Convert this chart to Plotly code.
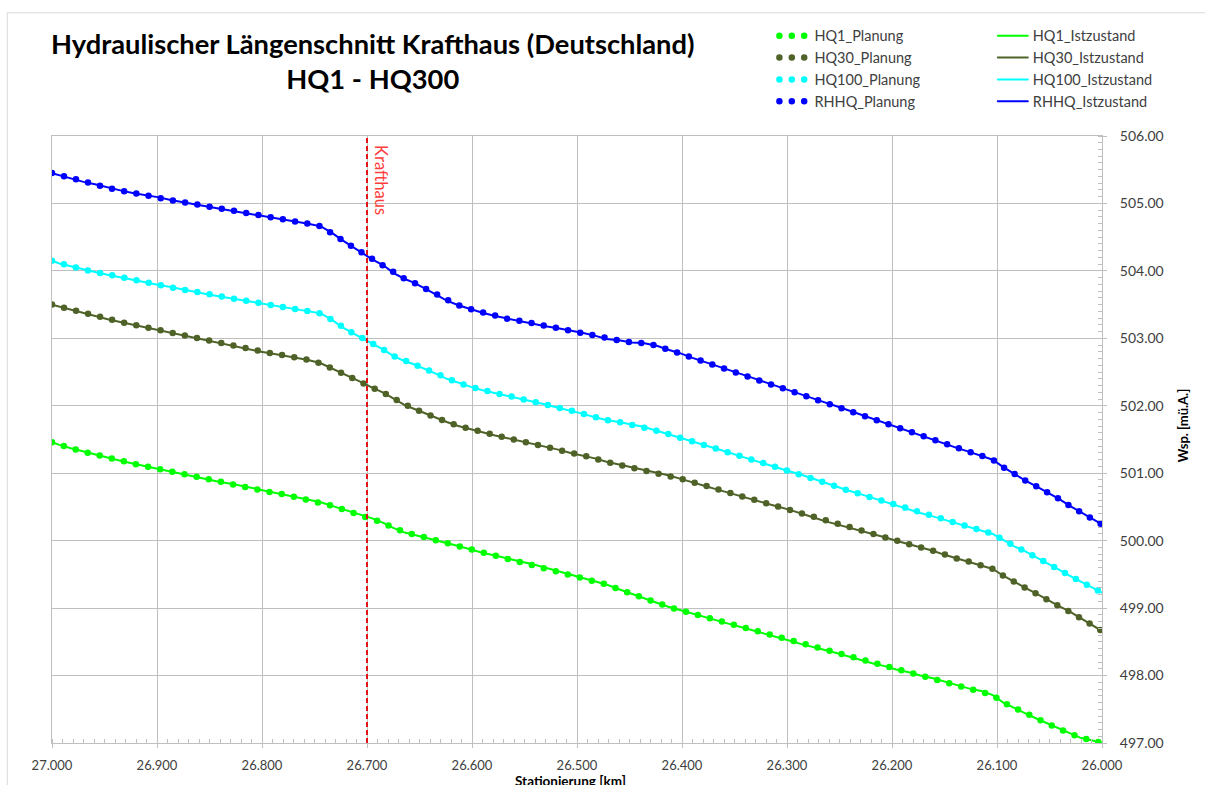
import plotly.graph_objects as go

# Stationierung [km] of the cross-sections
STATIONEN_KM = [
    27.000, 26.993, 26.982, 26.970, 26.958, 26.946, 26.934, 26.922, 26.910, 26.898,
    26.887, 26.875, 26.863, 26.851, 26.840, 26.828, 26.816, 26.804, 26.792, 26.780,
    26.768, 26.756, 26.744, 26.734, 26.724, 26.714, 26.704, 26.695, 26.684, 26.675,
    26.664, 26.656, 26.645, 26.635, 26.624, 26.613, 26.601, 26.590, 26.578, 26.566,
    26.554, 26.542, 26.530, 26.518, 26.506, 26.494, 26.483, 26.472, 26.460, 26.448,
    26.437, 26.424, 26.413, 26.402, 26.390, 26.378, 26.367, 26.356, 26.344, 26.332,
    26.321, 26.310, 26.298, 26.287, 26.276, 26.264, 26.252, 26.241, 26.230, 26.218,
    26.207, 26.196, 26.184, 26.173, 26.161, 26.150, 26.139, 26.127, 26.115, 26.104,
    26.094, 26.084, 26.073, 26.062, 26.052, 26.041, 26.031, 26.021, 26.010, 26.000,
]

# Wasserspiegel [mü.A.] – Istzustand
HQ1_IST = [
    501.46, 501.42, 501.37, 501.32, 501.27, 501.22, 501.18, 501.14, 501.10, 501.06,
    501.02, 500.99, 500.95, 500.91, 500.87, 500.84, 500.80, 500.76, 500.72, 500.69,
    500.65, 500.61, 500.57, 500.52, 500.47, 500.42, 500.37, 500.33, 500.26, 500.19,
    500.12, 500.09, 500.05, 500.01, 499.96, 499.92, 499.87, 499.82, 499.78, 499.73,
    499.69, 499.65, 499.60, 499.55, 499.50, 499.45, 499.40, 499.35, 499.28, 499.21,
    499.15, 499.08, 499.02, 498.97, 498.92, 498.87, 498.82, 498.77, 498.72, 498.67,
    498.62, 498.57, 498.52, 498.47, 498.43, 498.38, 498.33, 498.28, 498.23, 498.18,
    498.14, 498.09, 498.05, 498.00, 497.96, 497.91, 497.86, 497.81, 497.77, 497.71,
    497.60, 497.52, 497.44, 497.36, 497.29, 497.21, 497.14, 497.08, 497.04, 497.00,
]
HQ30_IST = [
    503.50, 503.47, 503.43, 503.38, 503.33, 503.28, 503.24, 503.20, 503.16, 503.12,
    503.08, 503.04, 503.00, 502.96, 502.92, 502.88, 502.84, 502.81, 502.78, 502.75,
    502.72, 502.68, 502.63, 502.56, 502.49, 502.41, 502.34, 502.27, 502.19, 502.11,
    502.01, 501.96, 501.89, 501.82, 501.76, 501.70, 501.65, 501.60, 501.56, 501.52,
    501.48, 501.44, 501.39, 501.35, 501.30, 501.26, 501.22, 501.17, 501.13, 501.09,
    501.06, 501.01, 500.97, 500.92, 500.87, 500.81, 500.76, 500.71, 500.66, 500.61,
    500.56, 500.51, 500.46, 500.41, 500.35, 500.29, 500.24, 500.20, 500.15, 500.10,
    500.05, 500.00, 499.95, 499.90, 499.85, 499.79, 499.74, 499.69, 499.64, 499.58,
    499.48, 499.39, 499.30, 499.21, 499.12, 499.03, 498.95, 498.86, 498.76, 498.66,
]
HQ100_IST = [
    504.15, 504.11, 504.07, 504.02, 503.98, 503.94, 503.90, 503.86, 503.82, 503.79,
    503.76, 503.72, 503.69, 503.65, 503.62, 503.59, 503.56, 503.53, 503.49, 503.46,
    503.43, 503.40, 503.37, 503.28, 503.17, 503.08, 503.00, 502.93, 502.83, 502.74,
    502.66, 502.62, 502.55, 502.48, 502.40, 502.34, 502.28, 502.23, 502.19, 502.15,
    502.11, 502.06, 502.02, 501.97, 501.93, 501.88, 501.83, 501.79, 501.76, 501.72,
    501.69, 501.63, 501.58, 501.53, 501.47, 501.42, 501.36, 501.31, 501.25, 501.19,
    501.14, 501.09, 501.03, 500.98, 500.92, 500.86, 500.80, 500.74, 500.69, 500.63,
    500.57, 500.52, 500.46, 500.41, 500.36, 500.31, 500.26, 500.21, 500.16, 500.10,
    500.01, 499.92, 499.84, 499.75, 499.66, 499.57, 499.48, 499.40, 499.31, 499.23,
]
RHHQ_IST = [
    505.45, 505.42, 505.37, 505.32, 505.28, 505.23, 505.19, 505.15, 505.12, 505.09,
    505.05, 505.02, 504.99, 504.95, 504.92, 504.89, 504.85, 504.83, 504.79, 504.76,
    504.73, 504.70, 504.66, 504.57, 504.46, 504.36, 504.26, 504.17, 504.08, 503.97,
    503.88, 503.83, 503.74, 503.65, 503.56, 503.49, 503.43, 503.38, 503.33, 503.29,
    503.26, 503.22, 503.18, 503.15, 503.12, 503.08, 503.04, 502.99, 502.97, 502.94,
    502.93, 502.89, 502.83, 502.78, 502.71, 502.65, 502.59, 502.53, 502.47, 502.41,
    502.35, 502.29, 502.23, 502.17, 502.11, 502.05, 501.99, 501.93, 501.87, 501.80,
    501.74, 501.68, 501.62, 501.56, 501.50, 501.44, 501.38, 501.32, 501.26, 501.20,
    501.09, 500.99, 500.89, 500.80, 500.72, 500.62, 500.52, 500.43, 500.33, 500.24,
]

# Planung – along this reach the planned levels coincide with the Istzustand
HQ1_PLANUNG = HQ1_IST
HQ30_PLANUNG = HQ30_IST
HQ100_PLANUNG = HQ100_IST
RHHQ_PLANUNG = RHHQ_IST

ABFLUESSE = ["HQ1", "HQ30", "HQ100", "RHHQ"]
FARBEN = ["#00ff00", "#4f6228", "#00ffff", "#0000ff"]
PLANUNG = [HQ1_PLANUNG, HQ30_PLANUNG, HQ100_PLANUNG, RHHQ_PLANUNG]
ISTZUSTAND = [HQ1_IST, HQ30_IST, HQ100_IST, RHHQ_IST]

KRAFTHAUS_KM = 26.700

X_TICKS = [27.0, 26.9, 26.8, 26.7, 26.6, 26.5, 26.4, 26.3, 26.2, 26.1, 26.0]
Y_RANGE = [497.0, 506.0]

FONT = "Lato, 'Open Sans', sans-serif"
GRID = "#bfbfbf"
TEXT = "#404040"

fig = go.Figure()

# Planung: thick round-dotted lines
for name, color, werte in zip(ABFLUESSE, FARBEN, PLANUNG):
    fig.add_trace(go.Scatter(
        x=STATIONEN_KM, y=werte, mode="lines",
        name=f"{name}_Planung", legend="legend",
        line=dict(color=color, width=6.5, dash="0px,12.4px"),
        hoverinfo="x+y+name",
    ))

# Istzustand: thin solid lines
for name, color, werte in zip(ABFLUESSE, FARBEN, ISTZUSTAND):
    fig.add_trace(go.Scatter(
        x=STATIONEN_KM, y=werte, mode="lines",
        name=f"{name}_Istzustand", legend="legend2",
        line=dict(color=color, width=2),
        hoverinfo="x+y+name",
    ))

# Krafthaus marker line
fig.add_shape(
    type="line", xref="x", yref="paper",
    x0=KRAFTHAUS_KM, x1=KRAFTHAUS_KM, y0=0, y1=1,
    line=dict(color="#e01414", width=2, dash="5px,3px"),
    layer="above",
)

axis_common = dict(
    showgrid=True, gridcolor=GRID, gridwidth=1,
    showline=True, linecolor=GRID, linewidth=1, mirror=True,
    zeroline=False,
    ticks="outside", ticklen=4, tickcolor=GRID,
)

fig.update_xaxes(
    range=[X_TICKS[0], X_TICKS[-1]],
    tickmode="array", tickvals=X_TICKS,
    ticktext=[f"{v:.3f}" for v in X_TICKS],
    tickfont=dict(family=FONT, size=13, color=TEXT),
    minor=dict(dtick=0.01, tick0=26.0, ticks="inside", ticklen=4,
               tickcolor=GRID, showgrid=False),
    ticklabelstandoff=6,
    **axis_common,
)
fig.update_yaxes(
    range=Y_RANGE, side="right",
    dtick=1, tick0=497, tickformat=".2f",
    tickfont=dict(family=FONT, size=14, color=TEXT),
    minor=dict(dtick=0.1, tick0=497, ticks="inside", ticklen=4,
               tickcolor=GRID, showgrid=False),
    ticklabelstandoff=10,
    **axis_common,
)

legend_common = dict(
    xanchor="left", yanchor="top", orientation="v",
    bgcolor="rgba(0,0,0,0)", borderwidth=0,
    font=dict(family=FONT, size=14.5, color=TEXT),
    tracegroupgap=0, itemwidth=30,
)

fig.update_layout(
    width=1205, height=785,
    margin=dict(l=52, r=103, t=136, b=42),
    paper_bgcolor="white", plot_bgcolor="white",
    font=dict(family=FONT, color=TEXT),
    showlegend=True,
    legend=dict(x=0.688, y=1.1915, **legend_common),
    legend2=dict(x=0.896, y=1.1915, **legend_common),
    shapes=list(fig.layout.shapes) + [
        # outer chart frame
        dict(type="rect", xref="paper", yref="paper",
             x0=-0.0426, x1=1.2, y0=-0.2, y1=1.203,
             line=dict(color="#d9d9d9", width=1), layer="below"),
    ],
    annotations=[
        dict(text="Hydraulischer Längenschnitt Krafthaus (Deutschland)<br>HQ1 - HQ300",
             xref="paper", yref="paper", x=0.306, y=1.1236,
             xanchor="center", yanchor="middle", showarrow=False,
             font=dict(family=FONT, size=27.3, color="#000000", weight="bold")),
        dict(text="Krafthaus", xref="x", yref="paper",
             x=KRAFTHAUS_KM - 0.0135, y=0.988, textangle=90,
             xanchor="center", yanchor="top", showarrow=False,
             font=dict(family=FONT, size=16.5, color="#ff3c3c")),
        dict(text="Stationierung [km]", xref="paper", yref="paper",
             x=0.4936, y=-0.0626, xanchor="center", yanchor="middle",
             showarrow=False,
             font=dict(family=FONT, size=13.5, color="#000000", weight="bold")),
        dict(text="Wsp. [mü.A.]", xref="paper", yref="paper",
             x=1.0774, y=0.524, textangle=-90,
             xanchor="center", yanchor="middle", showarrow=False,
             font=dict(family=FONT, size=13, color="#000000", weight="bold")),
    ],
)

fig.write_html(
    "out.html",
    post_script="document.querySelectorAll('.js-line').forEach(p => p.style.strokeLinecap = 'round');",
)
